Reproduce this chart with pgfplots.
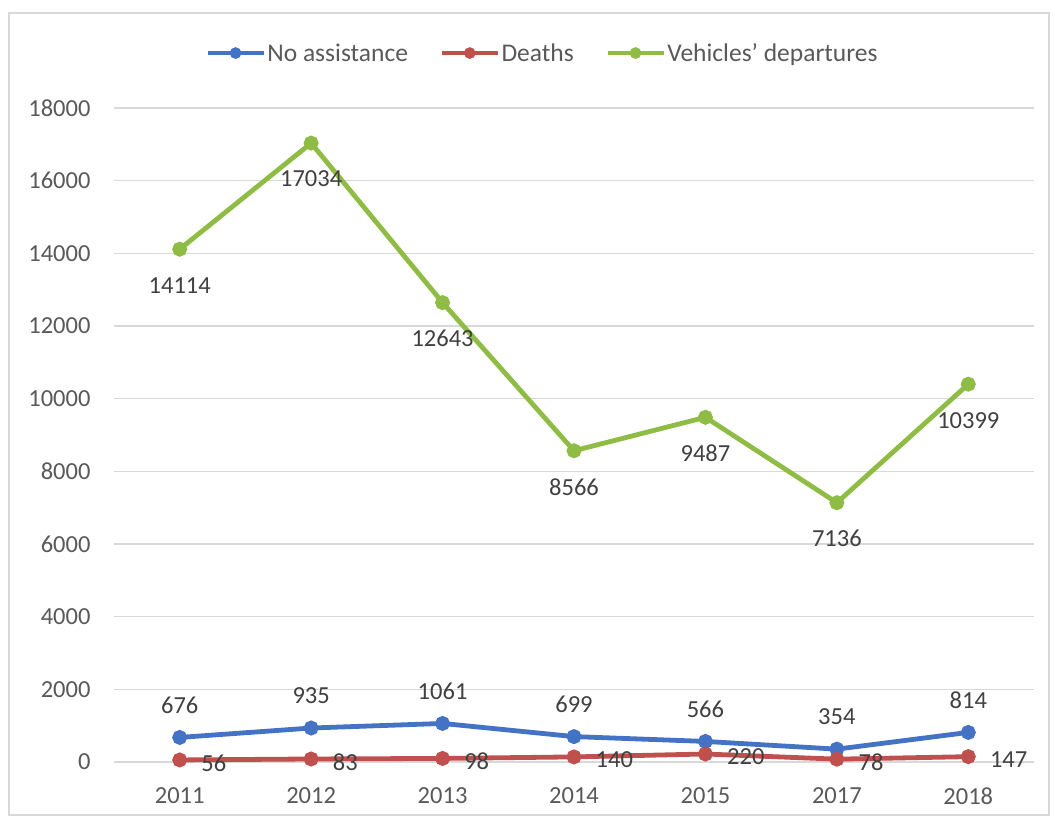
\documentclass[border=0pt]{standalone}
\usepackage{pgfplots}
\pgfplotsset{compat=1.18}
\usepackage{fontspec}
\setmainfont{Carlito}
\definecolor{cblue}{HTML}{4472C4}
\definecolor{cred}{HTML}{C0504D}
\definecolor{cgreen}{HTML}{8FBC45}
\definecolor{tickgray}{HTML}{595959}
\definecolor{labgray}{HTML}{404040}
\definecolor{gridgray}{HTML}{D9D9D9}
\begin{document}
\begin{tikzpicture}
\path[use as bounding box] (-114pt,-59pt) rectangle (941pt,762pt);
\draw[gridgray, line width=1.5pt] (-105pt,-53pt) rectangle (935pt,749pt);
\begin{axis}[
  scale only axis,
  width=920pt, height=654pt,
  xmin=-0.5, xmax=6.5,
  ymin=0, ymax=18000,
  xtick={0,...,6},
  xticklabels={2011,2012,2013,2014,2015,2017,2018},
  ytick={0,2000,...,18000},
  scaled ticks=false,
  /pgf/number format/1000 sep={},
  /pgf/number format/assume math mode=true,
  ymajorgrids,
  major grid style={gridgray, line width=1.2pt},
  axis line style={draw=none},
  major tick length=0pt,
  tick label style={font=\fontsize{24.5}{27}\selectfont, text=tickgray},
  yticklabel style={xshift=-20pt},
  xticklabel style={yshift=-22pt},
  clip=false,
  legend columns=3,
  legend style={at={(0.466,1.084)}, anchor=center, draw=none, fill=none,
    font=\fontsize{25.5}{28}\selectfont, text=tickgray,
    /tikz/every even column/.append style={column sep=30pt}},
  legend image code/.code={\draw[mark repeat=2, mark phase=2, line width=3.5pt, #1, mark size=4pt] plot coordinates {(0pt,0pt) (28pt,0pt) (56pt,0pt)};},
  nodes near coords,
  every node near coord/.append style={font=\fontsize{24.5}{27}\selectfont, text=labgray},
]
\addplot[color=cblue, line width=4.8pt, mark=*, mark size=5pt,
  every node near coord/.append style={anchor=center, yshift=32pt}]
  coordinates {(0,676) (1,935) (2,1061) (3,699) (4,566) (5,354) (6,814)};
\addlegendentry{No assistance}
\addplot[color=cred, line width=4.8pt, mark=*, mark size=5pt,
  every node near coord/.append style={anchor=west, xshift=16pt, yshift=-3pt}]
  coordinates {(0,56) (1,83) (2,98) (3,140) (4,220) (5,78) (6,147)};
\addlegendentry{Deaths}
\addplot[color=cgreen, line width=4.8pt, mark=*, mark size=5pt,
  every node near coord/.append style={anchor=center, yshift=-36pt}]
  coordinates {(0,14114) (1,17034) (2,12643) (3,8566) (4,9487) (5,7136) (6,10399)};
\addlegendentry{Vehicles’ departures}
\end{axis}
\end{tikzpicture}
\end{document}
